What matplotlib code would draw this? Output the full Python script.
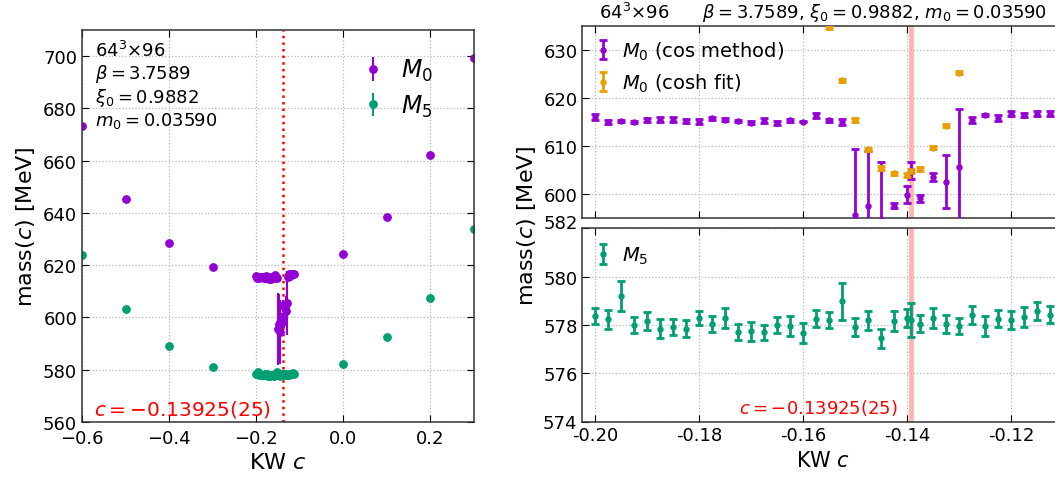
import numpy as np
import matplotlib
matplotlib.use("Agg")
import matplotlib.pyplot as plt
from matplotlib.ticker import FixedLocator

# ---------------- data ----------------
# coarse scan in the KW parameter c
coarse_c = [-0.6, -0.5, -0.4, -0.3, 0.0, 0.1, 0.2, 0.3]
coarse_m0 = [673.3, 645.2, 628.6, 619.2, 624.3, 638.5, 662.2, 699.1]
coarse_m0_err = [0.3, 0.3, 0.3, 0.3, 0.3, 0.3, 0.3, 0.3]
coarse_m5 = [624.0, 603.1, 588.9, 580.9, 582.3, 592.6, 607.5, 633.8]
coarse_m5_err = [0.3, 0.3, 0.3, 0.3, 0.3, 0.3, 0.3, 0.3]

# fine scan around the crossing
fine_c = [-0.2000, -0.1975, -0.1950, -0.1925, -0.1900, -0.1875, -0.1850, -0.1825,
          -0.1800, -0.1775, -0.1750, -0.1725, -0.1700, -0.1675, -0.1650, -0.1625,
          -0.1600, -0.1575, -0.1550, -0.1525, -0.1500, -0.1475, -0.1450, -0.1425,
          -0.1400, -0.1375, -0.1350, -0.1325, -0.1300, -0.1275, -0.1250, -0.1225,
          -0.1200, -0.1175, -0.1150, -0.1125]
m0_cos = [616.0, 615.0, 615.3, 615.0, 615.5, 615.5, 615.5, 615.2,
          615.2, 615.85, 615.5, 615.25, 614.88, 615.3, 614.82, 615.4,
          615.1, 616.4, 615.35, 615.05, 595.55, 597.5, 594.5, 597.6,
          599.9, 599.1, 603.55, 602.6, 605.6, 615.5, 616.5, 615.9,
          616.8, 616.5, 616.8, 616.8]
m0_cos_err = [0.6, 0.35, 0.25, 0.25, 0.45, 0.5, 0.5, 0.4,
              0.5, 0.3, 0.35, 0.2, 0.35, 0.5, 0.5, 0.35,
              0.15, 0.45, 0.4, 0.6, 13.9, 11.5, 12.2, 0.6,
              1.85, 0.8, 0.9, 5.6, 12.2, 0.65, 0.3, 0.6,
              0.5, 0.5, 0.55, 0.55]
m5 = [578.35, 578.23, 579.2, 577.99, 578.17, 577.85, 577.9, 577.84,
      578.28, 578.03, 578.3, 577.7, 577.74, 577.7, 578.0, 577.95,
      577.66, 578.25, 578.2, 578.98, 577.9, 578.19, 577.45, 578.16,
      578.27, 578.05, 578.28, 578.05, 577.95, 578.4, 577.95, 578.26,
      578.2, 578.33, 578.57, 578.42]
m5_err = [0.33, 0.38, 0.62, 0.33, 0.38, 0.38, 0.33, 0.36,
          0.28, 0.33, 0.42, 0.33, 0.4, 0.31, 0.34, 0.4,
          0.4, 0.35, 0.33, 0.76, 0.37, 0.4, 0.4, 0.4,
          0.37, 0.36, 0.42, 0.38, 0.32, 0.37, 0.41, 0.36,
          0.39, 0.4, 0.37, 0.35]

# cosh-fit masses (only where they fall in range)
cosh_c = [-0.1550, -0.1525, -0.1500, -0.1475, -0.1450, -0.1425,
          -0.1400, -0.1375, -0.1350, -0.1325, -0.1300]
m0_cosh = [634.8, 623.7, 615.4, 609.3, 605.5, 604.3,
           604.0, 605.2, 609.7, 614.3, 625.3]
m0_cosh_err = [0.35, 0.35, 0.4, 0.4, 0.45, 0.35,
               0.4, 0.35, 0.35, 0.35, 0.35]

# crossing point c* = -0.13925(25) and the masses measured there
c_cross = -0.13925
c_cross_err = 0.00025
m0_cos_cross, m0_cos_cross_err = 604.9, 1.7
m0_cosh_cross, m0_cosh_cross_err = 604.8, 0.5
m5_cross, m5_cross_err = 578.2, 0.7

# ---------------- style ----------------
PURPLE = "#9400D3"
GREEN = "#009E73"
ORANGE = "#E69F00"
BAND = "#ffb4b4"

plt.rcParams.update({
    "font.family": "DejaVu Sans",
    "mathtext.fontset": "dejavusans",
    "xtick.direction": "in",
    "ytick.direction": "in",
    "xtick.top": True,
    "ytick.right": True,
    "xtick.major.size": 5,
    "ytick.major.size": 5,
    "xtick.labelsize": 13,
    "ytick.labelsize": 13,
    "axes.linewidth": 1.1,
    "axes.edgecolor": "0.2",
})

W, H = 1055, 481
fig = plt.figure(figsize=(W / 100, H / 100), dpi=100)

axL = fig.add_axes([82 / W, 1 - 423 / H, 392 / W, 392 / H])
axT = fig.add_axes([582.3 / W, 1 - 219 / H, 481 / W, 191.7 / H])
axB = fig.add_axes([582.3 / W, 1 - 422.5 / H, 481 / W, 193.2 / H], sharex=axT)

for ax in (axL, axT, axB):
    ax.grid(True, ls=":", color="0.72", lw=0.9)
    ax.set_axisbelow(True)

# ---------------- left panel: full range ----------------
all_c = np.concatenate([coarse_c, fine_c, [c_cross]])
all_m0 = np.concatenate([coarse_m0, m0_cos, [m0_cos_cross]])
all_m0_err = np.concatenate([coarse_m0_err, m0_cos_err, [m0_cos_cross_err]])
all_m5 = np.concatenate([coarse_m5, m5, [m5_cross]])
all_m5_err = np.concatenate([coarse_m5_err, m5_err, [m5_cross_err]])

axL.errorbar(all_c, all_m0, yerr=all_m0_err, fmt="o", color=PURPLE, ms=5.3,
             elinewidth=1.5, capsize=0, label=r"$M_0$")
axL.errorbar(all_c, all_m5, yerr=all_m5_err, fmt="o", color=GREEN, ms=5.3,
             elinewidth=1.5, capsize=0, label=r"$M_5$")
axL.axvline(c_cross, color="red", ls=":", lw=1.8)

axL.set_xlim(-0.6, 0.3)
axL.set_ylim(560, 710)
axL.xaxis.set_major_locator(FixedLocator([-0.6, -0.4, -0.2, 0.0, 0.2]))
axL.yaxis.set_major_locator(FixedLocator([560, 580, 600, 620, 640, 660, 680, 700]))
axL.tick_params(axis="x", pad=5)
axL.set_xlabel(r"KW $c$", fontsize=16, labelpad=4)
axL.set_ylabel(r"mass($c$) [MeV]", fontsize=16)

axL.text(0.033, 0.975,
         "64$^3$×96\n" r"$\beta = 3.7589$" "\n" r"$\xi_0 = 0.9882$" "\n" r"$m_0 = 0.03590$",
         transform=axL.transAxes, ha="left", va="top", fontsize=13, linespacing=1.13)
axL.text(0.03, 0.02, r"$c = -0.13925(25)$", transform=axL.transAxes,
         color="red", fontsize=14.5, ha="left", va="baseline")
axL.legend(loc="upper right", bbox_to_anchor=(0.895, 0.931), frameon=False,
           fontsize=17, handlelength=1.0, handletextpad=0.7, borderaxespad=0,
           borderpad=0, labelspacing=0.4)

# ---------------- right panels: zoom on the crossing ----------------
eb = dict(fmt="o", ms=3.6, capsize=3, elinewidth=2.0, capthick=2.0)

for ax in (axT, axB):
    ax.axvspan(c_cross - c_cross_err, c_cross + c_cross_err, facecolor=BAND,
               edgecolor=BAND, lw=2.0, zorder=1.5)

axT.errorbar(np.concatenate([fine_c, [c_cross]]),
             np.concatenate([m0_cos, [m0_cos_cross]]),
             yerr=np.concatenate([m0_cos_err, [m0_cos_cross_err]]),
             color=PURPLE, label=r"$M_0$ (cos method)", zorder=3, **eb)
axT.errorbar(np.concatenate([cosh_c, [c_cross]]),
             np.concatenate([m0_cosh, [m0_cosh_cross]]),
             yerr=np.concatenate([m0_cosh_err, [m0_cosh_cross_err]]),
             color=ORANGE, label=r"$M_0$ (cosh fit)", zorder=3, **eb)

axB.errorbar(np.concatenate([fine_c, [c_cross]]),
             np.concatenate([m5, [m5_cross]]),
             yerr=np.concatenate([m5_err, [m5_cross_err]]),
             color=GREEN, label=r"$M_5$", zorder=3, **eb)

axT.set_xlim(-0.2025, -0.11)
axT.set_ylim(595, 635)
axT.yaxis.set_major_locator(FixedLocator([600, 610, 620, 630]))
axB.set_ylim(574, 582)
axB.yaxis.set_major_locator(FixedLocator([574, 576, 578, 580, 582]))
axB.xaxis.set_major_locator(FixedLocator([-0.20, -0.18, -0.16, -0.14, -0.12]))
axB.xaxis.set_major_formatter(matplotlib.ticker.FormatStrFormatter("%.2f"))
axT.tick_params(labelbottom=False)
axB.set_xlabel(r"KW $c$", fontsize=15)

axT.set_title("64$^3$×96      " r"$\beta = 3.7589$, $\xi_0 = 0.9882$, $m_0 = 0.03590$",
              fontsize=13, pad=6)

axT.legend(loc="upper left", bbox_to_anchor=(0.022, 0.932), frameon=False,
           fontsize=14, handlelength=1.0, handletextpad=0.5, borderaxespad=0,
           borderpad=0, labelspacing=0.5)
axB.legend(loc="upper left", bbox_to_anchor=(0.022, 0.915), frameon=False,
           fontsize=14, handlelength=1.0, handletextpad=0.5, borderaxespad=0,
           borderpad=0)

axB.text(c_cross - 0.0026, 574.34, r"$c = -0.13925(25)$", color="red",
         fontsize=13, ha="right", va="baseline")

fig.text(527 / W, 1 - 226 / H, r"mass($c$) [MeV]", rotation=90, fontsize=16,
         ha="center", va="center")

# nudge the topmost bottom-panel label up, clear of the upper panel
for lbl in axB.get_yticklabels():
    if lbl.get_text() == "582":
        lbl.set_verticalalignment("baseline")

fig.savefig("out.png", dpi=100)
